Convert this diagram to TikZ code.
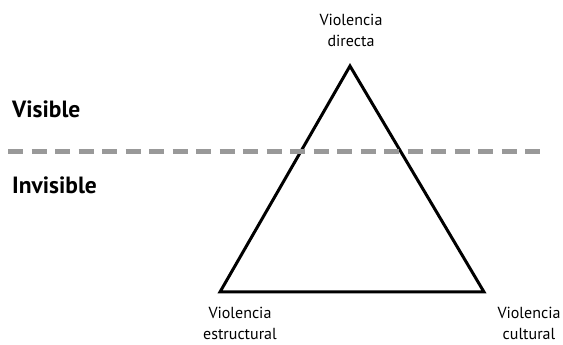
\documentclass[tikz,border=0pt]{standalone}
\usepackage{fontspec}
\setmainfont{PT Sans}
\begin{document}
\begin{tikzpicture}[x=1pt,y=1pt,
  lbl/.style={align=center,font=\fontsize{16}{21}\selectfont,inner sep=0pt},
  side/.style={anchor=west,font=\fontsize{23.5}{25}\selectfont\bfseries,inner sep=0pt},
  tri/.style={line width=3pt,line join=miter},
  sep/.style={line width=5pt,draw={rgb,255:red,153;green,153;blue,153},dash pattern=on 15pt off 8.5pt}]
\useasboundingbox (0,0) rectangle (563,345);
\coordinate (A) at (350,279);
\coordinate (B) at (220,53);
\coordinate (C) at (484,53);
\draw[tri] (A) -- (B) -- (C) -- cycle;
\coordinate (L) at (8,193);
\coordinate (R) at (542,193);
\draw[sep] (L) -- (R);
\node[lbl] (top) at (351,315) {Violencia\\directa};
\node[lbl] (bl) at (240,22) {Violencia\\estructural};
\node[lbl] (br) at (529,22) {Violencia\\cultural};
\node[side] (vis) at (12,236) {Visible};
\node[side] (inv) at (12,160) {Invisible};
\end{tikzpicture}
\end{document}
